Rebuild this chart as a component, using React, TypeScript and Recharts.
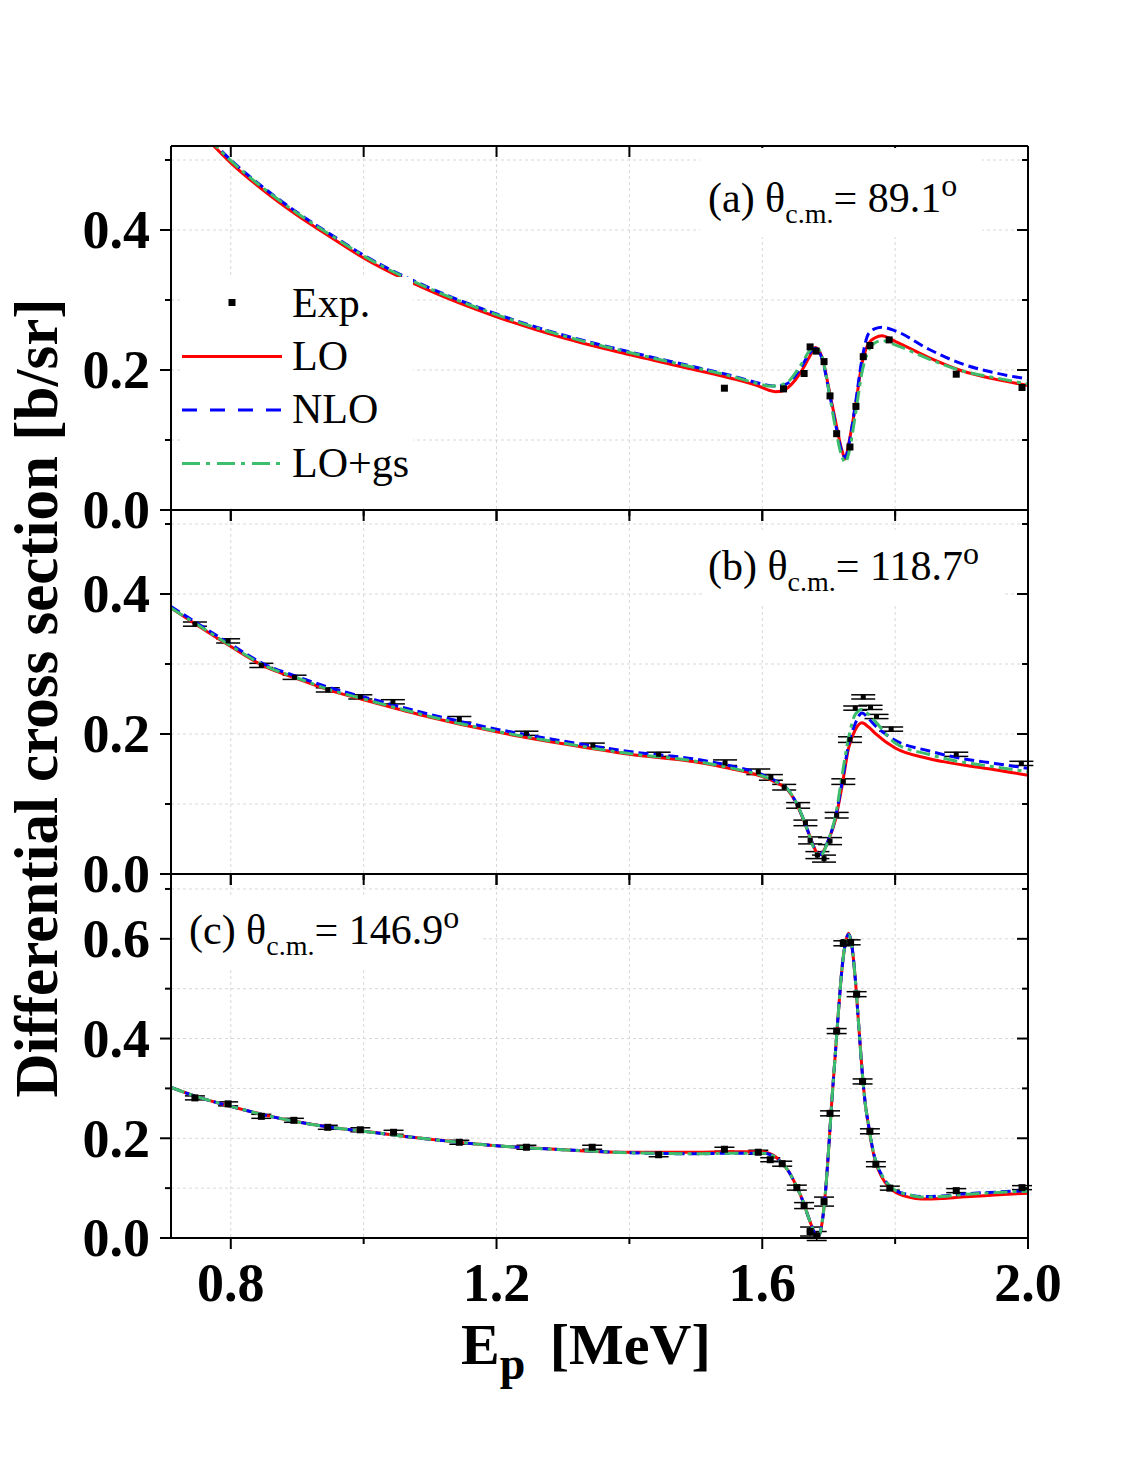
import { ComposedChart, Line, Scatter, XAxis, YAxis, CartesianGrid, ErrorBar } from 'recharts';

// ---- shared axis data ----
const xDomain = [0.71, 2.0];
const xTicks = [0.8, 1.0, 1.2, 1.4, 1.6, 1.8, 2.0];

// ---- panel (a) theta = 89.1 ----
const energyA = [0.71, 0.75, 0.8, 0.85, 0.9, 0.95, 1.0, 1.1, 1.2, 1.3, 1.4, 1.5, 1.55, 1.6, 1.61, 1.62, 1.63, 1.64, 1.65, 1.66, 1.67, 1.68, 1.69, 1.7, 1.71, 1.72, 1.725, 1.73, 1.74, 1.75, 1.76, 1.77, 1.78, 1.8, 1.85, 1.9, 1.95, 2.0];
const loA = [0.589, 0.545, 0.496, 0.456, 0.421, 0.39, 0.36, 0.313, 0.276, 0.246, 0.222, 0.2, 0.189, 0.175, 0.171, 0.169, 0.17, 0.176, 0.186, 0.2, 0.217, 0.232, 0.218, 0.175, 0.128, 0.085, 0.073, 0.094, 0.147, 0.209, 0.238, 0.246, 0.249, 0.241, 0.218, 0.199, 0.187, 0.178];
const nloA = [0.592, 0.549, 0.5, 0.46, 0.425, 0.394, 0.364, 0.317, 0.28, 0.25, 0.226, 0.204, 0.193, 0.18, 0.178, 0.177, 0.178, 0.182, 0.192, 0.206, 0.222, 0.231, 0.216, 0.172, 0.124, 0.083, 0.075, 0.092, 0.15, 0.215, 0.252, 0.259, 0.261, 0.256, 0.23, 0.209, 0.196, 0.187];
const gsA = [0.591, 0.548, 0.499, 0.459, 0.424, 0.393, 0.363, 0.316, 0.279, 0.249, 0.225, 0.203, 0.192, 0.179, 0.177, 0.177, 0.179, 0.184, 0.196, 0.21, 0.226, 0.233, 0.219, 0.172, 0.118, 0.076, 0.068, 0.08, 0.135, 0.196, 0.228, 0.239, 0.242, 0.236, 0.216, 0.199, 0.189, 0.18];
const expEA = [1.543, 1.632, 1.663, 1.672, 1.681, 1.693, 1.702, 1.712, 1.732, 1.741, 1.752, 1.762, 1.791, 1.892, 1.991];
const expVA = [0.174, 0.173, 0.195, 0.233, 0.227, 0.212, 0.163, 0.109, 0.09, 0.148, 0.219, 0.235, 0.243, 0.194, 0.175];

// ---- panel (b) theta = 118.7 ----
const energyB = [0.71, 0.75, 0.8, 0.85, 0.9, 0.95, 1.0, 1.1, 1.2, 1.3, 1.4, 1.5, 1.55, 1.6, 1.62, 1.64, 1.65, 1.66, 1.67, 1.68, 1.685, 1.69, 1.7, 1.71, 1.72, 1.73, 1.74, 1.75, 1.76, 1.77, 1.8, 1.85, 1.9, 1.95, 2.0];
const loB = [0.38, 0.355, 0.325, 0.297, 0.279, 0.262, 0.249, 0.224, 0.203, 0.186, 0.171, 0.16, 0.151, 0.139, 0.131, 0.118, 0.103, 0.082, 0.058, 0.034, 0.027, 0.03, 0.049, 0.077, 0.125, 0.18, 0.206, 0.216, 0.21, 0.201, 0.18, 0.165, 0.156, 0.149, 0.141];
const nloB = [0.382, 0.358, 0.328, 0.3, 0.282, 0.266, 0.253, 0.228, 0.207, 0.19, 0.175, 0.164, 0.155, 0.142, 0.133, 0.119, 0.104, 0.083, 0.058, 0.034, 0.027, 0.03, 0.05, 0.08, 0.13, 0.185, 0.215, 0.23, 0.222, 0.212, 0.191, 0.176, 0.165, 0.158, 0.151];
const gsB = [0.38, 0.356, 0.326, 0.298, 0.28, 0.263, 0.25, 0.225, 0.204, 0.187, 0.172, 0.161, 0.152, 0.14, 0.132, 0.119, 0.104, 0.083, 0.057, 0.032, 0.025, 0.028, 0.05, 0.082, 0.14, 0.195, 0.228, 0.235, 0.228, 0.218, 0.187, 0.171, 0.16, 0.153, 0.146];
const expEB = [0.746, 0.796, 0.846, 0.896, 0.946, 0.995, 1.044, 1.144, 1.245, 1.345, 1.444, 1.544, 1.594, 1.613, 1.633, 1.654, 1.665, 1.672, 1.683, 1.693, 1.702, 1.712, 1.722, 1.732, 1.74, 1.752, 1.763, 1.772, 1.794, 1.892, 1.99];
const expVB = [0.357, 0.333, 0.298, 0.281, 0.263, 0.253, 0.246, 0.221, 0.201, 0.184, 0.171, 0.159, 0.146, 0.138, 0.124, 0.098, 0.073, 0.048, 0.027, 0.022, 0.047, 0.084, 0.132, 0.192, 0.237, 0.253, 0.238, 0.225, 0.207, 0.171, 0.158];
const errB = [0.003, 0.003, 0.003, 0.003, 0.003, 0.003, 0.003, 0.004, 0.003, 0.003, 0.003, 0.004, 0.004, 0.004, 0.004, 0.004, 0.004, 0.005, 0.005, 0.005, 0.005, 0.004, 0.004, 0.004, 0.003, 0.003, 0.003, 0.003, 0.003, 0.003, 0.003];

// ---- panel (c) theta = 146.9 ----
const energyC = [0.71, 0.75, 0.8, 0.85, 0.9, 0.95, 1.0, 1.1, 1.2, 1.3, 1.4, 1.5, 1.55, 1.6, 1.61, 1.62, 1.63, 1.64, 1.65, 1.66, 1.67, 1.675, 1.68, 1.683, 1.687, 1.69, 1.695, 1.7, 1.705, 1.71, 1.715, 1.72, 1.725, 1.73, 1.735, 1.74, 1.745, 1.75, 1.755, 1.76, 1.765, 1.77, 1.78, 1.79, 1.8, 1.82, 1.84, 1.87, 1.9, 1.95, 2.0];
const loC = [0.302, 0.283, 0.264, 0.247, 0.233, 0.222, 0.214, 0.198, 0.185, 0.177, 0.172, 0.172, 0.173, 0.173, 0.17, 0.163, 0.15, 0.133, 0.108, 0.078, 0.04, 0.022, 0.006, 0.002, 0.01, 0.03, 0.09, 0.18, 0.28, 0.37, 0.46, 0.54, 0.59, 0.611, 0.585, 0.52, 0.43, 0.34, 0.27, 0.225, 0.185, 0.155, 0.122, 0.103, 0.092, 0.082, 0.078, 0.079, 0.082, 0.086, 0.09];
const nloC = [0.302, 0.283, 0.264, 0.247, 0.233, 0.222, 0.214, 0.198, 0.185, 0.177, 0.171, 0.169, 0.17, 0.17, 0.168, 0.162, 0.15, 0.133, 0.108, 0.078, 0.04, 0.022, 0.006, 0.002, 0.01, 0.03, 0.09, 0.18, 0.28, 0.37, 0.46, 0.54, 0.59, 0.609, 0.585, 0.52, 0.43, 0.34, 0.27, 0.226, 0.187, 0.158, 0.126, 0.107, 0.096, 0.087, 0.083, 0.084, 0.088, 0.092, 0.095];
const gsC = [0.302, 0.283, 0.264, 0.247, 0.233, 0.222, 0.214, 0.198, 0.185, 0.177, 0.171, 0.169, 0.17, 0.17, 0.168, 0.162, 0.15, 0.133, 0.108, 0.078, 0.04, 0.022, 0.006, 0.002, 0.01, 0.03, 0.09, 0.18, 0.28, 0.37, 0.46, 0.54, 0.59, 0.608, 0.585, 0.52, 0.43, 0.34, 0.27, 0.226, 0.187, 0.158, 0.126, 0.107, 0.096, 0.087, 0.082, 0.083, 0.087, 0.091, 0.094];
const expEC = [0.746, 0.796, 0.846, 0.895, 0.946, 0.995, 1.045, 1.144, 1.245, 1.344, 1.444, 1.543, 1.594, 1.612, 1.63, 1.652, 1.663, 1.672, 1.682, 1.693, 1.702, 1.712, 1.722, 1.733, 1.742, 1.751, 1.762, 1.771, 1.792, 1.892, 1.991];
const expVC = [0.281, 0.269, 0.244, 0.236, 0.222, 0.217, 0.212, 0.192, 0.182, 0.182, 0.167, 0.178, 0.172, 0.157, 0.149, 0.101, 0.065, 0.013, 0.004, 0.073, 0.25, 0.415, 0.591, 0.593, 0.489, 0.314, 0.214, 0.148, 0.1, 0.095, 0.101];
const errC = [0.004, 0.004, 0.004, 0.004, 0.004, 0.004, 0.004, 0.004, 0.004, 0.004, 0.004, 0.004, 0.004, 0.004, 0.005, 0.005, 0.006, 0.009, 0.009, 0.009, 0.005, 0.005, 0.005, 0.005, 0.005, 0.005, 0.005, 0.005, 0.004, 0.004, 0.004];

const FONT = '"Liberation Serif", "Times New Roman", serif';
const RED = '#ff0000';
const BLUE = '#0000ff';
const GREEN = '#3cbe6c';
const CHART_W = 1142;
const PANEL_H = 364;
const LEFT = 171;
const RIGHT = 114;
const axisStyle = { stroke: '#000', strokeWidth: 2 };

const rows = (xs: number[], ys: number[], es?: number[]) =>
    xs.map((e, i) => ({ e, v: ys[i], err: es ? es[i] : 0 }));

const isMajorY = (v: number) => Math.round(v * 10) % 2 === 0;
const isMajorX = (v: number) => Math.round(v * 10) % 4 === 0;

// ticks drawn by hand so major/minor lengths match the original
const LeftTick = ({ x, y, payload }: any) => {
    const major = isMajorY(payload.value);
    return (
        <g>
            <line x1={x} x2={x - (major ? 11 : 6)} y1={y} y2={y} stroke="#000" strokeWidth={2} />
            {major && (
                <text x={x - 21} y={y} dy="0.34em" textAnchor="end" fontFamily={FONT} fontWeight="bold" fontSize={54} fill="#000">
                    {payload.value.toFixed(1)}
                </text>
            )}
        </g>
    );
};

const RightTick = ({ x, y, payload }: any) => {
    const major = isMajorY(payload.value);
    return <line x1={x} x2={x - (major ? 11 : 6)} y1={y} y2={y} stroke="#000" strokeWidth={2} />;
};

const TopTick = ({ x, y }: any) => <line x1={x} x2={x} y1={y} y2={y + 11} stroke="#000" strokeWidth={2} />;

const BottomTick = ({ x, y, payload, showLabel }: any) => {
    const major = isMajorX(payload.value);
    return (
        <g>
            <line x1={x} x2={x} y1={y} y2={y + (major ? 11 : 6)} stroke="#000" strokeWidth={2} />
            {showLabel && major && (
                <text x={x} y={y + 63} textAnchor="middle" fontFamily={FONT} fontWeight="bold" fontSize={54} fill="#000">
                    {payload.value.toFixed(1)}
                </text>
            )}
        </g>
    );
};

interface PanelProps {
    top: number;
    yMax: number;
    yTicks: number[];
    lo: any[];
    nlo: any[];
    gs: any[];
    exp: any[];
    marker: number;
    cap: number;
    withErrors: boolean;
    showX: boolean;
}

function Panel({ top, yMax, yTicks, lo, nlo, gs, exp, marker, cap, withErrors, showX }: PanelProps) {
    const mTop = 40;
    const mBottom = showX ? 110 : 40;
    const square = (p: any) => (
        <rect x={p.cx - marker / 2} y={p.cy - marker / 2} width={marker} height={marker} fill="#000" />
    );
    // axes are 1px thick, margins trimmed by 1 so the plot box stays where it should
    return (
        <div style={{ position: 'absolute', left: 0, top: top - mTop }}>
            <ComposedChart
                width={CHART_W}
                height={PANEL_H + mTop + mBottom}
                margin={{ top: mTop - 1, bottom: mBottom - 1, left: LEFT - 1, right: RIGHT - 1 }}
            >
                <CartesianGrid stroke="#d8d8d8" strokeDasharray="3 3" />
                <XAxis
                    dataKey="e"
                    type="number"
                    domain={xDomain}
                    ticks={xTicks}
                    interval={0}
                    allowDataOverflow
                    height={1}
                    tickSize={0}
                    tickMargin={0}
                    tickLine={false}
                    axisLine={axisStyle}
                    tick={(p: any) => <BottomTick {...p} showLabel={showX} />}
                />
                <XAxis
                    xAxisId="top"
                    orientation="top"
                    dataKey="e"
                    type="number"
                    domain={xDomain}
                    ticks={xTicks}
                    interval={0}
                    allowDataOverflow
                    height={1}
                    tickSize={0}
                    tickMargin={0}
                    tickLine={false}
                    axisLine={axisStyle}
                    tick={(p: any) => <TopTick {...p} />}
                />
                <YAxis
                    type="number"
                    domain={[0, yMax]}
                    ticks={yTicks}
                    interval={0}
                    allowDataOverflow
                    width={1}
                    tickSize={0}
                    tickMargin={0}
                    tickLine={false}
                    axisLine={axisStyle}
                    tick={(p: any) => <LeftTick {...p} />}
                />
                <YAxis
                    yAxisId="right"
                    orientation="right"
                    type="number"
                    domain={[0, yMax]}
                    ticks={yTicks}
                    interval={0}
                    allowDataOverflow
                    width={1}
                    tickSize={0}
                    tickMargin={0}
                    tickLine={false}
                    axisLine={axisStyle}
                    tick={(p: any) => <RightTick {...p} />}
                />
                <Scatter data={exp} dataKey="v" shape={square} isAnimationActive={false}>
                    {withErrors && (
                        <ErrorBar dataKey="err" direction="y" width={cap} stroke="#000" strokeWidth={1.5} isAnimationActive={false} />
                    )}
                </Scatter>
                <Line data={lo} dataKey="v" type="monotone" stroke={RED} strokeWidth={3} dot={false} isAnimationActive={false} />
                <Line data={nlo} dataKey="v" type="monotone" stroke={BLUE} strokeWidth={3} strokeDasharray="10 5" dot={false} isAnimationActive={false} />
                <Line data={gs} dataKey="v" type="monotone" stroke={GREEN} strokeWidth={3} strokeDasharray="14 5 4 5" dot={false} isAnimationActive={false} />
            </ComposedChart>
        </div>
    );
}

const PanelLabel = ({ x, y, tag, angle, box }: { x: number; y: number; tag: string; angle: string; box: number[] }) => (
    <g>
        <rect x={box[0]} y={box[1]} width={box[2]} height={box[3]} fill="#fff" />
        <text x={x} y={y} fontSize={42} fill="#000">
            {`(${tag}) θ`}
            <tspan fontSize={28} dy={11}>c.m.</tspan>
            <tspan dy={-11}>{'= ' + angle}</tspan>
            <tspan fontSize={32} dy={-16}>o</tspan>
        </text>
    </g>
);

function App() {
    const yTicksAB = [0, 0.1, 0.2, 0.3, 0.4, 0.5];
    const yTicksC = [0, 0.1, 0.2, 0.3, 0.4, 0.5, 0.6, 0.7];
    return (
        <div style={{ position: 'absolute', left: 0, top: 0, width: 1142, height: 1457, background: '#fff' }}>
            <Panel
                top={146}
                yMax={0.52}
                yTicks={yTicksAB}
                lo={rows(energyA, loA)}
                nlo={rows(energyA, nloA)}
                gs={rows(energyA, gsA)}
                exp={rows(expEA, expVA)}
                marker={7}
                cap={8}
                withErrors={false}
                showX={false}
            />
            <Panel
                top={510}
                yMax={0.52}
                yTicks={yTicksAB}
                lo={rows(energyB, loB)}
                nlo={rows(energyB, nloB)}
                gs={rows(energyB, gsB)}
                exp={rows(expEB, expVB, errB)}
                marker={5}
                cap={12}
                withErrors
                showX={false}
            />
            <Panel
                top={874}
                yMax={0.73}
                yTicks={yTicksC}
                lo={rows(energyC, loC)}
                nlo={rows(energyC, nloC)}
                gs={rows(energyC, gsC)}
                exp={rows(expEC, expVC, errC)}
                marker={7}
                cap={10}
                withErrors
                showX
            />
            <svg
                width={1142}
                height={1457}
                style={{ position: 'absolute', left: 0, top: 0, pointerEvents: 'none' }}
                fontFamily={FONT}
            >
                <text transform="translate(57, 698) rotate(-90)" textAnchor="middle" fontSize={61} fontWeight="bold" fill="#000">
                    Differential cross section [b/sr]
                </text>
                <text x={461} y={1364} fontSize={58} fontWeight="bold" fill="#000">
                    E
                    <tspan fontSize={46} dy={15}>p</tspan>
                    <tspan dy={-15} dx={10}>{' [MeV]'}</tspan>
                </text>

                <PanelLabel x={708} y={212} tag="a" angle="89.1" box={[700, 148, 282, 89]} />
                <PanelLabel x={708} y={580} tag="b" angle="118.7" box={[702, 530, 303, 75]} />
                <PanelLabel x={189} y={944} tag="c" angle="146.9" box={[176, 895, 307, 73]} />

                {/* legend */}
                <rect x={182} y={277} width={231} height={231} fill="#fff" />
                <rect x={228.5} y={299} width={7} height={7} fill="#000" />
                <text x={292} y={317} fontSize={42} fill="#000">Exp.</text>
                <line x1={182} x2={282} y1={356.5} y2={356.5} stroke={RED} strokeWidth={3} />
                <text x={292} y={370} fontSize={42} fill="#000">LO</text>
                <line x1={182} x2={282} y1={410} y2={410} stroke={BLUE} strokeWidth={3} strokeDasharray="15 13" />
                <text x={292} y={423} fontSize={42} fill="#000">NLO</text>
                <line x1={182} x2={282} y1={463.5} y2={463.5} stroke={GREEN} strokeWidth={3} strokeDasharray="18 6 4 7" />
                <text x={292} y={477} fontSize={42} fill="#000">LO+gs</text>
            </svg>
        </div>
    );
}

export default App;
